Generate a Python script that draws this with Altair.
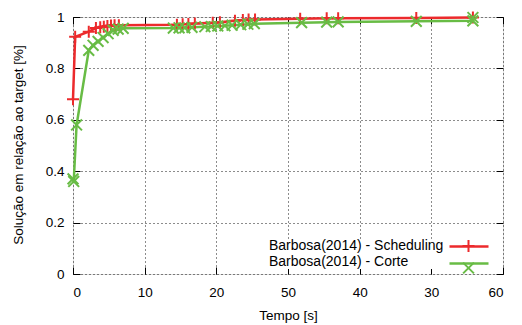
import altair as alt
import pandas as pd

series_names = ["Barbosa(2014) - Scheduling", "Barbosa(2014) - Corte"]
series_colors = ["#ec2a2c", "#68bc45"]

red_x = [0, 0.3, 2.2, 3.2, 3.8, 4.3, 4.8, 5.3, 5.8, 6.4, 14.5, 15.3, 16.1, 17.0,
         19.5, 20.5, 22.6, 23.7, 24.5, 25.4, 31.7, 35.4, 37.0, 47.9, 55.8]
red_y = [0.68, 0.923, 0.943, 0.957, 0.96, 0.962, 0.965, 0.967, 0.968, 0.968, 0.97,
         0.972, 0.973, 0.975, 0.978, 0.98, 0.985, 0.988, 0.99, 0.99, 0.993, 0.995,
         0.995, 0.996, 0.998]

green_x = [0, 0.1, 0.5, 2.2, 2.8, 3.5, 4.2, 4.9, 5.6, 6.3, 7.0, 14.0, 14.8, 15.6,
           16.6, 18.4, 19.3, 20.2, 21.2, 22.2, 23.4, 24.4, 25.3, 31.9, 35.4, 37.0,
           47.9, 55.8, 55.8]
green_y = [0.37, 0.36, 0.58, 0.87, 0.89, 0.905, 0.92, 0.935, 0.948, 0.953, 0.956,
           0.957, 0.958, 0.958, 0.96, 0.962, 0.963, 0.965, 0.966, 0.968, 0.97, 0.972,
           0.974, 0.978, 0.98, 0.981, 0.983, 0.985, 0.998]

x_tick_values = [0, 10, 20, 30, 40, 50, 60]
x_tick_labels = ["0", "10", "20", "50", "40", "30", "60"]
y_tick_values = [0, 0.2, 0.4, 0.6, 0.8, 1]
y_tick_labels = ["0", "0.2", "0.4", "0.6", "0.8", "1"]

x_title = "Tempo [s]"
y_title = "Solução em relação ao target [%]"

rows = []
for name, xs, ys in [(series_names[0], red_x, red_y), (series_names[1], green_x, green_y)]:
    for i, (xv, yv) in enumerate(zip(xs, ys)):
        rows.append({"series": name, "t": xv, "v": yv, "idx": i})
df = pd.DataFrame(rows)


def make_expr(values, labels):
    expr = "''"
    for v, l in reversed(list(zip(values, labels))):
        expr = f"abs(datum.value - {v}) < 1e-6 ? '{l}' : {expr}"
    return expr


FONT = "Liberation Sans"
PLUS = "M-1,0L1,0M0,-1L0,1"
CROSS = "M-0.9,-0.9L0.9,0.9M-0.9,0.9L0.9,-0.9"
LINE = "M-3.25,0L3.25,0"
KEYBOX = "M-9.3,0L39.8,0"

xscale = alt.Scale(domain=[0, 60], nice=False, zero=False)
yscale = alt.Scale(domain=[0, 1], nice=False, zero=False)
cscale = alt.Scale(domain=series_names, range=series_colors)
sscale = alt.Scale(domain=series_names, range=[PLUS, CROSS])

LEG_Y = 222
common_leg = dict(orient="none", title=None, padding=0, labelFont=FONT,
                  labelFontSize=14, labelColor="#000", rowPadding=2,
                  symbolSize=144, legendY=LEG_Y, labelOffset=0, labelLimit=400)

tick_axis = dict(labels=False, grid=False, domain=False, ticks=True, tickSize=7,
                 tickColor="#000", tickWidth=1, title=None, offset=-7)

base = alt.Chart(df)

labels_layer = base.mark_point(opacity=0, size=144).encode(
    x=alt.X("t:Q", scale=xscale, axis=alt.Axis(
        orient="bottom", values=x_tick_values, labelExpr=make_expr(x_tick_values, x_tick_labels),
        title=x_title, grid=True, ticks=False, tickSize=0, domain=False,
        labelPadding=11, labelFont=FONT, labelFontSize=13.5, labelColor="#000",
        titleFont=FONT, titleFontSize=13.5, titleFontWeight="normal", titleColor="#000",
        titleY=41, titleBaseline="middle",
        gridColor="#000", gridDash=[1, 3], gridWidth=1, gridOpacity=0.9)),
    y=alt.Y("v:Q", scale=yscale, axis=alt.Axis(
        orient="left", values=y_tick_values, labelExpr=make_expr(y_tick_values, y_tick_labels),
        title=y_title, grid=True, ticks=False, tickSize=0, domain=False,
        labelPadding=9, labelFont=FONT, labelFontSize=13.5, labelColor="#000",
        titleFont=FONT, titleFontSize=13.5, titleFontWeight="normal", titleColor="#000",
        titleX=-55, titleY=127.5, titleAngle=270, titleBaseline="middle", titleAlign="center",
        gridColor="#000", gridDash=[1, 3], gridWidth=1, gridOpacity=0.9)),
    color=alt.Color("series:N", scale=cscale, legend=alt.Legend(
        symbolType=KEYBOX, symbolOpacity=0, symbolStrokeWidth=0, fillColor="white",
        legendX=182, **common_leg)),
)

lines = base.mark_line(strokeWidth=2.5).encode(
    x=alt.X("t:Q", scale=xscale, axis=alt.Axis(orient="bottom", values=x_tick_values, **tick_axis)),
    y=alt.Y("v:Q", scale=yscale, axis=alt.Axis(orient="left", values=y_tick_values, **tick_axis)),
    color=alt.Color("series:N", scale=cscale, legend=alt.Legend(
        symbolType=LINE, symbolStrokeWidth=2.5, labelExpr="''", symbolOpacity=1,
        legendX=388.5, **common_leg)),
    order="idx:Q",
)

points = base.mark_point(filled=False, size=144, strokeWidth=2, opacity=1).encode(
    x=alt.X("t:Q", scale=xscale, axis=alt.Axis(orient="top", values=x_tick_values, **tick_axis)),
    y=alt.Y("v:Q", scale=yscale, axis=alt.Axis(orient="right", values=y_tick_values, **tick_axis)),
    color=alt.Color("series:N", scale=cscale, legend=alt.Legend(
        symbolStrokeWidth=2, labelExpr="''", legendX=388.5, **common_leg)),
    shape=alt.Shape("series:N", scale=sscale, legend=alt.Legend(
        symbolStrokeWidth=2, labelExpr="''", legendX=388.5, **common_leg)),
)

chart = alt.layer(labels_layer, lines, points).resolve_axis(
    x="independent", y="independent"
).resolve_legend(color="independent", shape="independent").properties(
    width=430, height=257,
    autosize=alt.AutoSizeParams(type="none"),
    padding={"left": 73, "top": 17, "right": 19, "bottom": 51},
).configure_view(stroke="#000", strokeWidth=1).configure(background="white")

chart.save("out.html", embed_options={"renderer": "svg", "actions": False})
